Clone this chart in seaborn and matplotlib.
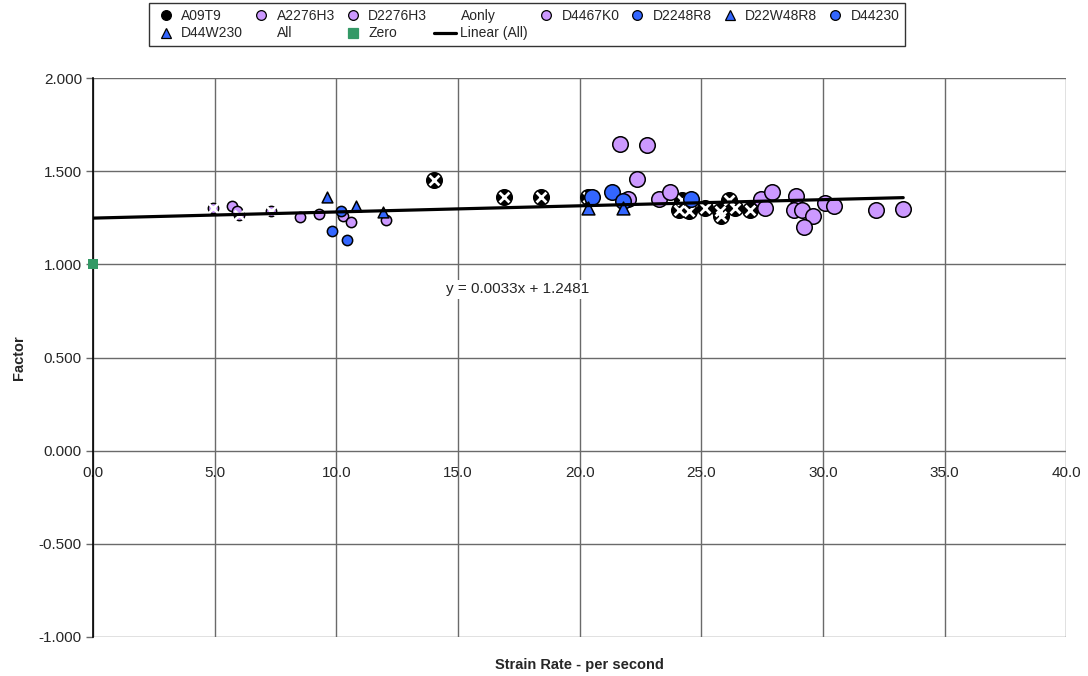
import numpy as np
import matplotlib
matplotlib.use("Agg")
import matplotlib.pyplot as plt
import seaborn as sns
from matplotlib.lines import Line2D

# --- data ---
a09t9_x = [14.0, 16.9, 18.4, 20.35, 24.07, 24.2, 24.48, 25.15, 25.77, 25.8, 26.14, 26.4, 27.0]
a09t9_y = [1.452, 1.362, 1.362, 1.362, 1.294, 1.347, 1.288, 1.300, 1.285, 1.258, 1.347, 1.300, 1.294]

a2276h3_x = [4.92, 6.0, 7.32]
a2276h3_y = [1.300, 1.267, 1.285]

d2276h3_x = [5.73, 5.93, 8.5, 9.3, 10.29, 10.6, 12.03]
d2276h3_y = [1.315, 1.285, 1.254, 1.272, 1.262, 1.227, 1.236]

# Aonly = all the "A" specimens (drawn as white crosses)
aonly_x = a09t9_x + a2276h3_x
aonly_y = a09t9_y + a2276h3_y

d4467k0_x = [21.66, 22.76, 22.37, 22.0, 23.26, 23.7, 27.45, 27.6, 27.9, 28.9, 28.8,
             29.15, 29.6, 29.24, 30.1, 30.45, 32.2, 33.3]
d4467k0_y = [1.646, 1.642, 1.458, 1.350, 1.351, 1.386, 1.350, 1.300, 1.390, 1.365, 1.290,
             1.290, 1.258, 1.200, 1.330, 1.315, 1.290, 1.297]

d2248r8_x = [10.19, 9.81, 10.42]
d2248r8_y = [1.285, 1.177, 1.129]

d22w48r8_x = [9.6, 10.81, 11.9]
d22w48r8_y = [1.362, 1.311, 1.279]

d44230_x = [20.5, 21.35, 21.77, 24.58]
d44230_y = [1.362, 1.386, 1.342, 1.353]

d44w230_x = [20.36, 21.77]
d44w230_y = [1.300, 1.300]

zero_x = [0.0]
zero_y = [1.0]

all_x = a09t9_x + a2276h3_x + d2276h3_x + d4467k0_x + d2248r8_x + d22w48r8_x + d44230_x + d44w230_x + zero_x

# trend line from the chart label
trend_slope = 0.0033
trend_intercept = 1.2481

BLACK = "#000000"
PURPLE = "#CC99FF"
BLUE = "#3366FF"
GREEN = "#339966"

sns.set_style("white")
plt.rcParams["font.family"] = ["Liberation Sans", "DejaVu Sans"]

fig, ax = plt.subplots(figsize=(10.88, 6.76), dpi=100)
fig.subplots_adjust(left=0.0855, right=0.98, top=0.8846, bottom=0.0577)

kw = dict(ax=ax, edgecolor="black", linewidth=1.1, legend=False)
sns.scatterplot(x=a09t9_x, y=a09t9_y, color=BLACK, marker="o", s=125, zorder=3, **kw)
sns.scatterplot(x=a2276h3_x, y=a2276h3_y, color=PURPLE, marker="o", s=55, zorder=3, **kw)
sns.scatterplot(x=d2276h3_x, y=d2276h3_y, color=PURPLE, marker="o", s=55, zorder=3, **kw)
sns.scatterplot(x=aonly_x, y=aonly_y, color="white", marker="x", s=50, linewidth=2.0,
                ax=ax, legend=False, zorder=3)
sns.scatterplot(x=d4467k0_x, y=d4467k0_y, color=PURPLE, marker="o", s=125, zorder=3, **kw)
sns.scatterplot(x=d2248r8_x, y=d2248r8_y, color=BLUE, marker="o", s=55, zorder=3, **kw)
sns.scatterplot(x=d22w48r8_x, y=d22w48r8_y, color=BLUE, marker="^", s=60, zorder=3, **kw)
sns.scatterplot(x=d44230_x, y=d44230_y, color=BLUE, marker="o", s=125, zorder=3, **kw)
sns.scatterplot(x=d44w230_x, y=d44w230_y, color=BLUE, marker="^", s=85, zorder=3, **kw)
sns.scatterplot(x=zero_x, y=zero_y, color=GREEN, marker="s", s=45, linewidth=0,
                ax=ax, legend=False, zorder=4, clip_on=False)

line_x = np.array([0.0, max(all_x)])
sns.lineplot(x=line_x, y=trend_slope * line_x + trend_intercept, color="black",
             linewidth=2.3, ax=ax, zorder=5)

ax.text(17.45, 0.865, f"y = {trend_slope:.4f}x + {trend_intercept:.4f}", fontsize=11,
        ha="center", va="center", zorder=6,
        bbox=dict(facecolor="white", edgecolor="none", pad=1.5))

ax.set_xlim(0, 40)
ax.set_ylim(-1, 2)
ax.set_xticks(np.arange(0, 40.1, 5))
ax.set_yticks(np.arange(-1, 2.01, 0.5))
ax.xaxis.set_major_formatter(matplotlib.ticker.FormatStrFormatter("%.1f"))
ax.yaxis.set_major_formatter(matplotlib.ticker.FormatStrFormatter("%.3f"))
ax.grid(True, color="#6a6a6a", linewidth=1.0)
ax.set_axisbelow(True)

for s in ["top", "right"]:
    ax.spines[s].set_visible(False)
ax.spines["bottom"].set_position(("data", 0))
ax.spines["bottom"].set_visible(False)
ax.spines["left"].set_color("black")
ax.spines["left"].set_linewidth(1.2)
ax.spines["left"].set_zorder(2)

ax.tick_params(axis="x", length=0, pad=11, labelsize=11)
ax.tick_params(axis="y", length=5, width=1, color="#6a6a6a", pad=3, labelsize=11, left=True)

ax.set_xlabel("Strain Rate - per second", fontsize=10.5, fontweight="bold")
ax.xaxis.set_label_coords(0.5, -0.037)
ax.set_ylabel("Factor", fontsize=10.5, fontweight="bold", labelpad=9)

# legend, laid out row by row like the original
def h(marker, color, size, edge="black"):
    return Line2D([], [], linestyle="none", marker=marker, markersize=size,
                  markerfacecolor=color, markeredgecolor=edge, markeredgewidth=0.9)

entries = {
    "A09T9": h("o", BLACK, 7),
    "A2276H3": h("o", PURPLE, 7),
    "D2276H3": h("o", PURPLE, 7),
    "Aonly": h("x", "white", 6, "white"),
    "D4467K0": h("o", PURPLE, 7),
    "D2248R8": h("o", BLUE, 7),
    "D22W48R8": h("^", BLUE, 7),
    "D44230": h("o", BLUE, 7),
    "D44W230": h("^", BLUE, 7),
    "All": h("x", "white", 6, "white"),
    "Zero": h("s", GREEN, 7, GREEN),
    "Linear (All)": Line2D([], [], color="black", linewidth=2.3),
}
order = ["A09T9", "D44W230", "A2276H3", "All", "D2276H3", "Zero", "Aonly", "Linear (All)",
         "D4467K0", "D2248R8", "D22W48R8", "D44230"]
leg = fig.legend([entries[k] for k in order], order, loc="upper center",
                 bbox_to_anchor=(0.4845, 0.995), ncol=8, fontsize=10, frameon=True,
                 fancybox=False, edgecolor="black", handlelength=1.6, handletextpad=0.3,
                 columnspacing=0.5, borderpad=0.4, labelspacing=0.25, borderaxespad=0)
leg.get_frame().set_linewidth(1.0)

plt.savefig("out.png", dpi=100)
